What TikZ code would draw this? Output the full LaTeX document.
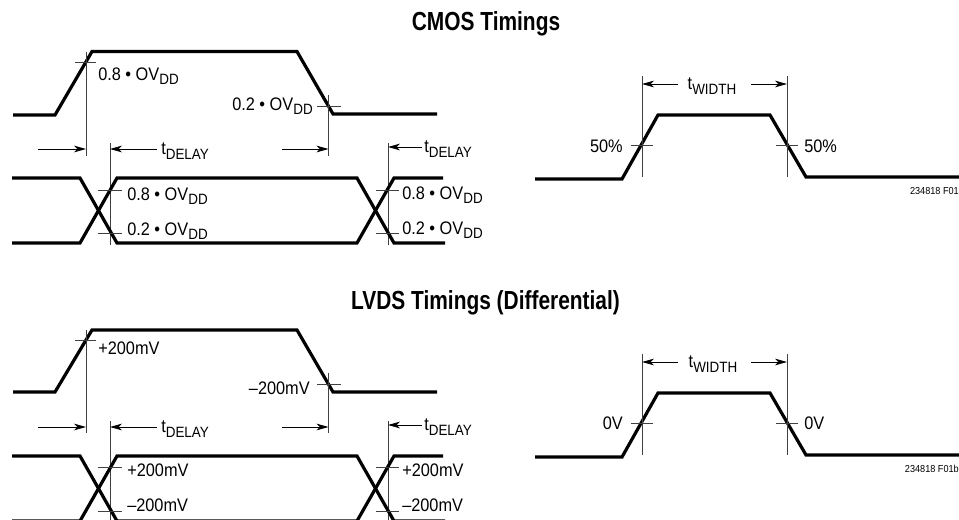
\documentclass[tikz,border=0pt]{standalone}
\usepackage{fontspec}
\setmainfont{Liberation Sans}[FakeStretch=0.9]
\newfontfamily\titlefont{Liberation Sans}[FakeStretch=0.8]
\usetikzlibrary{arrows.meta}
\newcommand{\lowtxt}[1]{\raisebox{-0.45ex}{\fontsize{11.2pt}{12pt}\selectfont #1}}
\newcommand{\ovdd}[1]{#1 \textbullet\ OV\lowtxt{DD}}
\begin{document}
\begin{tikzpicture}[
  x=0.75pt,y=-0.75pt,
  wave/.style={draw=black,line width=2.4pt},
  guide/.style={draw=black!75,line width=0.6pt},
  dim/.style={draw=black,line width=0.6pt,-{Stealth[length=9pt,width=5pt,inset=2.5pt]}},
  lbl/.style={inner sep=0pt,font=\fontsize{13.6pt}{15pt}\selectfont},
  title/.style={inner sep=0pt,anchor=base,font=\titlefont\fontsize{19.6pt}{21pt}\selectfont\bfseries},
  tag/.style={inner sep=0pt,anchor=east,font=\fontsize{7.6pt}{9pt}\selectfont}
]
  \useasboundingbox (0,0) rectangle (959,520);
  \clip (0,0) rectangle (959,520);

  \node[title] (cmostitle) at (486,30.5) {CMOS Timings};
  \node[title] (lvdstitle) at (485.5,309.5) {LVDS Timings (Differential)};

  \draw[wave] (13,115) -- (55,115) -- (92,51.5) -- (297,51.5) -- (333,114) -- (437,114);
  \draw[guide] (86,52) -- (86,156);
  \draw[guide] (75,62) -- (96,62);
  \draw[guide] (328.5,95) -- (328.5,156);
  \draw[guide] (317,106) -- (341,106);
  \node[lbl,anchor=west] (rise1) at (98,76.5) {\ovdd{0.8}};
  \node[lbl,anchor=east] (fall1) at (313,106) {\ovdd{0.2}};

  \coordinate (a1) at (38,149);
  \coordinate (b1) at (86,149);
  \coordinate (c1) at (282,149);
  \coordinate (d1) at (328.5,149);
  \draw[dim] (a1) -- (b1);
  \draw[dim] (c1) -- (d1);
  \draw[guide] (110,143) -- (110,245);
  \node[lbl,anchor=west] (delay1) at (161,151) {t\lowtxt{DELAY}};
  \coordinate (e1) at (110,149);
  \draw[dim] (delay1.west) ++(-4,-2) -- (e1);
  \draw[guide] (388,143) -- (388,245);
  \node[lbl,anchor=west] (delay2) at (424,149) {t\lowtxt{DELAY}};
  \coordinate (f1) at (388,147);
  \draw[dim] (delay2.west) ++(-2,-2) -- (f1);

  \draw[wave] (12,178) -- (80,178) -- (117,243) -- (357,243) -- (394,178) -- (443,178);
  \draw[wave] (12,243) -- (80,243) -- (117,178) -- (357,178) -- (394,243) -- (445,243);
  \draw[guide] (98,190) -- (122,190);
  \draw[guide] (98,233) -- (122,233);
  \draw[guide] (376,190) -- (399,190);
  \draw[guide] (376,233) -- (399,233);
  \node[lbl,anchor=west] (high1) at (127,196) {\ovdd{0.8}};
  \node[lbl,anchor=west] (low1) at (127,231) {\ovdd{0.2}};
  \node[lbl,anchor=west] (high2) at (402,195) {\ovdd{0.8}};
  \node[lbl,anchor=west] (low2) at (402,230) {\ovdd{0.2}};

  \draw[wave] (535,179) -- (622,179) -- (658,115) -- (770,115) -- (806,177) -- (959,177);
  \draw[guide] (642,76) -- (642,177);
  \draw[guide] (787,76) -- (787,177);
  \draw[guide] (631,145) -- (653,145);
  \draw[guide] (776,145) -- (798,145);
  \node[lbl] (width1) at (712,86) {t\lowtxt{WIDTH}};
  \coordinate (g1) at (642,84);
  \coordinate (h1) at (787,84);
  \draw[dim] (678,84) -- (g1);
  \draw[dim] (751,84) -- (h1);
  \node[lbl,anchor=east] (pct1) at (623,146) {50\%};
  \node[lbl,anchor=west] (pct2) at (804,146) {50\%};
  \node[tag] (fig1) at (959,191) {234818 F01};

  \draw[wave] (13,392) -- (55,392) -- (92,330) -- (297,330) -- (333,392) -- (437,392);
  \draw[guide] (86,330) -- (86,433);
  \draw[guide] (75,340) -- (96,340);
  \draw[guide] (328.5,373) -- (328.5,433);
  \draw[guide] (317,384) -- (341,384);
  \node[lbl,anchor=west] (rise2) at (98,348) {+200mV};
  \node[lbl,anchor=east] (fall2) at (310,388) {--200mV};

  \coordinate (a2) at (38,427);
  \coordinate (b2) at (86,427);
  \coordinate (c2) at (282,427);
  \coordinate (d2) at (328.5,427);
  \draw[dim] (a2) -- (b2);
  \draw[dim] (c2) -- (d2);
  \draw[guide] (110,421) -- (110,520);
  \node[lbl,anchor=west] (delay3) at (161,429) {t\lowtxt{DELAY}};
  \coordinate (e2) at (110,427);
  \draw[dim] (delay3.west) ++(-4,-2) -- (e2);
  \draw[guide] (388,421) -- (388,520);
  \node[lbl,anchor=west] (delay4) at (424,427) {t\lowtxt{DELAY}};
  \coordinate (f2) at (388,425);
  \draw[dim] (delay4.west) ++(-2,-2) -- (f2);

  \draw[wave] (12,456) -- (80,456) -- (117,521) -- (357,521) -- (394,456) -- (443,456);
  \draw[wave] (12,521) -- (80,521) -- (117,456) -- (357,456) -- (394,521) -- (445,521);
  \draw[guide] (98,467) -- (122,467);
  \draw[guide] (98,511) -- (122,511);
  \draw[guide] (376,467) -- (399,467);
  \draw[guide] (376,511) -- (399,511);
  \node[lbl,anchor=west] (high3) at (127,470) {+200mV};
  \node[lbl,anchor=west] (low3) at (127,505) {--200mV};
  \node[lbl,anchor=west] (high4) at (402,470) {+200mV};
  \node[lbl,anchor=west] (low4) at (402,505) {--200mV};

  \draw[wave] (535,457) -- (622,457) -- (658,393) -- (770,393) -- (806,455) -- (959,455);
  \draw[guide] (642,354) -- (642,455);
  \draw[guide] (787,354) -- (787,455);
  \draw[guide] (631,423) -- (653,423);
  \draw[guide] (776,423) -- (798,423);
  \node[lbl] (width2) at (713,364) {t\lowtxt{WIDTH}};
  \coordinate (g2) at (642,362);
  \coordinate (h2) at (787,362);
  \draw[dim] (678,362) -- (g2);
  \draw[dim] (751,362) -- (h2);
  \node[lbl,anchor=east] (zero1) at (623,423) {0V};
  \node[lbl,anchor=west] (zero2) at (804,423) {0V};
  \node[tag] (fig2) at (959,469) {234818 F01b};
\end{tikzpicture}
\end{document}
